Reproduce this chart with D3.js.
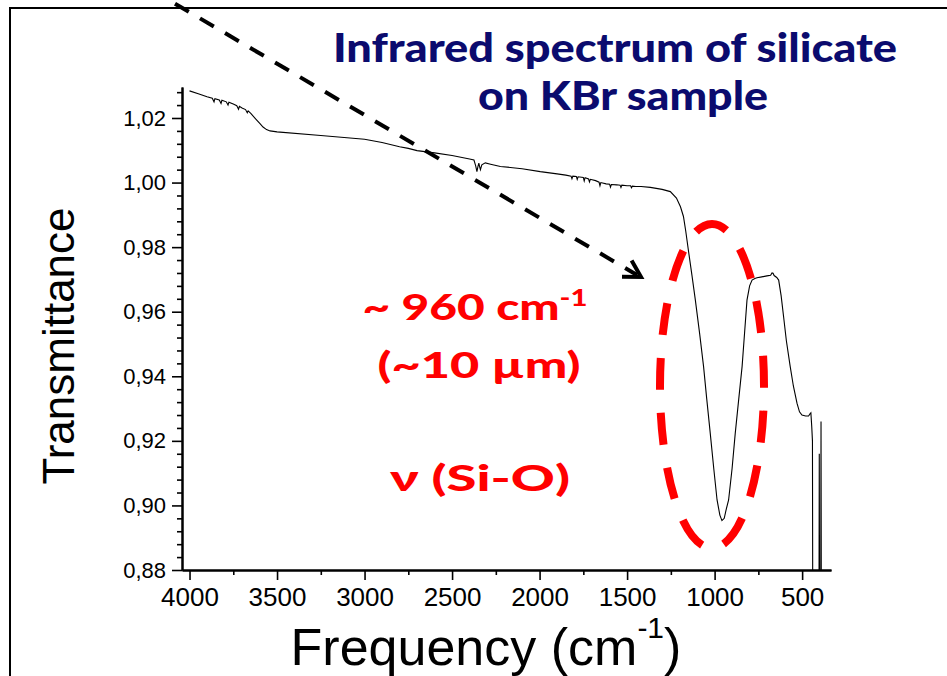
<!DOCTYPE html>
<html>
<head>
<meta charset="utf-8">
<script src="https://cdn.jsdelivr.net/npm/d3@7"></script>
<style>
  body { margin: 0; background: #fff; }
  svg { display: block; }
</style>
</head>
<body>
<svg id="chart"></svg>
<script>
// spectrum (frequency in cm-1, transmittance)
const freq = [4000, 3950, 3900, 3870, 3860, 3855, 3830, 3820, 3815, 3790, 3780, 3775, 3750, 3730, 3720, 3715,
  3700, 3680, 3670, 3665, 3650, 3620, 3600, 3580, 3560, 3540, 3500, 3250, 3000, 2900, 2800, 2750, 2700, 2600,
  2500, 2400, 2375, 2365, 2358, 2352, 2347, 2342, 2338, 2330, 2310, 2280, 2224, 2100, 1996, 1900, 1850, 1820,
  1815, 1810, 1790, 1785, 1780, 1750, 1745, 1740, 1720, 1715, 1710, 1680, 1660, 1655, 1650, 1620, 1600, 1595,
  1590, 1560, 1540, 1535, 1530, 1500, 1480, 1475, 1470, 1450, 1420, 1367, 1300, 1253, 1218, 1195, 1178, 1165,
  1150, 1130, 1110, 1085, 1063, 1045, 1025, 1005, 986, 970, 958, 945, 935, 920, 900, 882, 862, 843, 828, 815,
  800, 786, 770, 758, 730, 701, 680, 672, 666, 660, 645, 634, 620, 606, 590, 568, 550, 529, 515, 501, 480, 463,
  455, 450, 445, 441, 439, 404, 402, 400, 394, 392, 390, 340];
const trans = [1.0284, 1.0275, 1.0266, 1.0261, 1.0250, 1.0260, 1.0256, 1.0245, 1.0255, 1.0250, 1.0240, 1.0249,
  1.0243, 1.0238, 1.0227, 1.0236, 1.0231, 1.0226, 1.0216, 1.0222, 1.0214, 1.0196, 1.0184, 1.0172, 1.0164, 1.0160,
  1.0157, 1.0146, 1.0134, 1.0124, 1.0111, 1.0106, 1.0099, 1.0092, 1.0084, 1.0073, 1.0070, 1.0052, 1.0034, 1.0050,
  1.0060, 1.0048, 1.0040, 1.0055, 1.0061, 1.0057, 1.0050, 1.0043, 1.0034, 1.0027, 1.0023, 1.0020, 1.0012, 1.0020,
  1.0019, 1.0010, 1.0018, 1.0016, 1.0005, 1.0015, 1.0011, 1.0002, 1.0010, 1.0006, 1.0001, 0.9990, 1.0000, 0.9996,
  0.9995, 0.9986, 0.9994, 0.9993, 0.9992, 0.9985, 0.9992, 0.9990, 0.9990, 0.9984, 0.9989, 0.9988, 0.9988, 0.9985,
  0.9979, 0.9972, 0.9952, 0.9925, 0.9895, 0.9850, 0.9791, 0.9715, 0.9636, 0.9530, 0.9430, 0.9330, 0.9224, 0.9115,
  0.9017, 0.8970, 0.8953, 0.8960, 0.8985, 0.9017, 0.9115, 0.9224, 0.9330, 0.9430, 0.9540, 0.9636, 0.9680, 0.9698,
  0.9703, 0.9705, 0.9708, 0.9711, 0.9713, 0.9720, 0.9719, 0.9712, 0.9706, 0.9698, 0.9650, 0.9585, 0.9510, 0.9430,
  0.9370, 0.9316, 0.9290, 0.9280, 0.9277, 0.9277, 0.9284, 0.9287, 0.9244, 0.9200, 0.8600, 0.8600, 0.9160, 0.8600,
  0.8600, 0.9260, 0.8600, 0.8600];

const xTicks = [4000, 3500, 3000, 2500, 2000, 1500, 1000, 500];
const xMinor = [3750, 3250, 2750, 2250, 1750, 1250, 750];
const yTicks = [0.88, 0.90, 0.92, 0.94, 0.96, 0.98, 1.00, 1.02];
const titleLines = ["Infrared spectrum of silicate", "on KBr sample"];

const width = 947;
const height = 676;
const plotLeft = 182;
const plotRight = 831;
const plotTop = 87;
const plotBottom = 570;

const svg = d3.select("#chart")
  .attr("width", width)
  .attr("height", height);

// outer slide frame
svg.append("rect")
  .attr("x", 10)
  .attr("y", 8)
  .attr("width", 960)
  .attr("height", 700)
  .style("fill", "none")
  .style("stroke", "#000")
  .style("stroke-width", 2);

// scales
const xScale = d3.scaleLinear()
  .domain([4043, 335])
  .range([plotLeft, plotRight]);
const yScale = d3.scaleLinear()
  .domain([0.88, 1.0296])
  .range([plotBottom, plotTop]);

const commaFmt = (d) => d3.format(".2f")(d).replace(".", ",");

// axes
const xAxis = d3.axisBottom(xScale)
  .tickValues(xTicks)
  .tickFormat(d3.format("d"))
  .tickSizeInner(10)
  .tickSizeOuter(0)
  .tickPadding(8);
const xMinorAxis = d3.axisBottom(xScale)
  .tickValues(xMinor)
  .tickFormat("")
  .tickSizeInner(5)
  .tickSizeOuter(0);
const yAxis = d3.axisLeft(yScale)
  .tickValues(yTicks)
  .tickFormat(commaFmt)
  .tickSizeInner(10)
  .tickSizeOuter(0)
  .tickPadding(6);
const yMinorAxis = d3.axisLeft(yScale)
  .tickValues(d3.range(0, 38).map((i) => 0.88 + i * 0.004).filter((v, i) => i % 5 !== 0))
  .tickFormat("")
  .tickSizeInner(5)
  .tickSizeOuter(0);

const gx = svg.append("g")
  .attr("transform", `translate(0, ${plotBottom})`)
  .call(xAxis);
gx.selectAll("text")
  .style("font-family", "Liberation Sans, Arial, sans-serif")
  .style("font-size", "26px")
  .style("fill", "#000");
svg.append("g")
  .attr("transform", `translate(0, ${plotBottom})`)
  .call(xMinorAxis);

const gy = svg.append("g")
  .attr("transform", `translate(${plotLeft}, 0)`)
  .call(yAxis);
gy.selectAll("text")
  .style("font-family", "Liberation Sans, Arial, sans-serif")
  .style("font-size", "22px")
  .style("fill", "#000");
svg.append("g")
  .attr("transform", `translate(${plotLeft}, 0)`)
  .call(yMinorAxis);

svg.selectAll(".domain")
  .style("stroke", "#000")
  .style("stroke-width", 2);
svg.selectAll(".tick line")
  .style("stroke", "#000")
  .style("stroke-width", 1.6);

// spectrum
svg.append("clipPath")
  .attr("id", "plotClip")
  .append("rect")
  .attr("x", plotLeft)
  .attr("y", plotTop - 10)
  .attr("width", plotRight - plotLeft)
  .attr("height", plotBottom - plotTop + 10);

const line = d3.line()
  .x((d, i) => xScale(freq[i]))
  .y((d) => yScale(d));

svg.append("path")
  .datum(trans)
  .attr("clip-path", "url(#plotClip)")
  .attr("d", line)
  .style("fill", "none")
  .style("stroke", "#000")
  .style("stroke-width", 1.1);

// axis titles
svg.append("text")
  .attr("transform", "translate(74, 346) rotate(-90)")
  .attr("text-anchor", "middle")
  .style("font-family", "Liberation Sans, Arial, sans-serif")
  .style("font-size", "44px")
  .text("Transmittance");

const xLabel = svg.append("text")
  .attr("x", 486)
  .attr("y", 665)
  .attr("text-anchor", "middle")
  .style("font-family", "Liberation Sans, Arial, sans-serif")
  .style("font-size", "52px");
xLabel.append("tspan").text("Frequency (cm");
xLabel.append("tspan").attr("dy", -27).style("font-size", "30px").text("-1");
xLabel.append("tspan").attr("dy", 27).text(")");

// title
svg.selectAll(".title")
  .data(titleLines)
  .enter()
  .append("text")
  .attr("class", "title")
  .attr("x", (d, i) => i === 0 ? 615 : 623)
  .attr("y", (d, i) => 62 + i * 48)
  .attr("text-anchor", "middle")
  .attr("textLength", (d, i) => i === 0 ? 564 : 290)
  .attr("lengthAdjust", "spacingAndGlyphs")
  .style("font-family", "Lato, 'Open Sans', sans-serif")
  .style("font-weight", 900)
  .style("font-size", "39px")
  .style("fill", "#0b0b6e")
  .text((d) => d);

// red annotation
const red = "#ff0000";
const note1 = svg.append("text")
  .attr("x", 475)
  .attr("y", 320)
  .attr("text-anchor", "middle")
  .attr("textLength", 225)
  .attr("lengthAdjust", "spacingAndGlyphs")
  .style("font-family", "Lato, 'Open Sans', sans-serif")
  .style("font-weight", 900)
  .style("font-size", "36px")
  .style("fill", red);
note1.append("tspan").text("~ 960 cm");
note1.append("tspan").attr("dy", -14).style("font-size", "22px").text("-1");

svg.append("text")
  .attr("x", 479)
  .attr("y", 378)
  .attr("text-anchor", "middle")
  .attr("textLength", 203)
  .attr("lengthAdjust", "spacingAndGlyphs")
  .style("font-family", "Lato, 'Open Sans', sans-serif")
  .style("font-weight", 900)
  .style("font-size", "36px")
  .style("fill", red)
  .text("(~10 µm)");

svg.append("text")
  .attr("x", 480)
  .attr("y", 491)
  .attr("text-anchor", "middle")
  .attr("textLength", 180)
  .attr("lengthAdjust", "spacingAndGlyphs")
  .style("font-family", "Lato, 'Open Sans', sans-serif")
  .style("font-weight", 900)
  .style("font-size", "36px")
  .style("fill", red)
  .text("ν (Si-O)");

// dashed ellipse around the Si-O band
const cx = 712, cy = 386, rx = 52, ry = 162;
svg.append("path")
  .attr("d", `M${cx},${cy - ry} A${rx},${ry} 0 1 1 ${cx},${cy + ry} A${rx},${ry} 0 1 1 ${cx},${cy - ry}`)
  .style("fill", "none")
  .style("stroke", red)
  .style("stroke-width", 8)
  .style("stroke-dasharray", "32,23")
  .style("stroke-dashoffset", 16);

// dashed arrow
const a0 = [150, -11], a1 = [641, 277];
svg.append("line")
  .attr("x1", a0[0]).attr("y1", a0[1])
  .attr("x2", a1[0] - 4).attr("y2", a1[1] - 2)
  .style("stroke", "#000")
  .style("stroke-width", 4)
  .style("stroke-dasharray", "16,13");
const ang = Math.atan2(a1[1] - a0[1], a1[0] - a0[0]);
const headLen = 19;
const head = [ang + Math.PI - Math.PI / 6, ang + Math.PI + Math.PI / 6].map((t) => [a1[0] + headLen * Math.cos(t), a1[1] + headLen * Math.sin(t)]);
svg.append("path")
  .attr("d", `M${head[0][0]},${head[0][1]} L${a1[0]},${a1[1]} L${head[1][0]},${head[1][1]}`)
  .style("fill", "none")
  .style("stroke", "#000")
  .style("stroke-width", 4);
</script>
</body>
</html>
